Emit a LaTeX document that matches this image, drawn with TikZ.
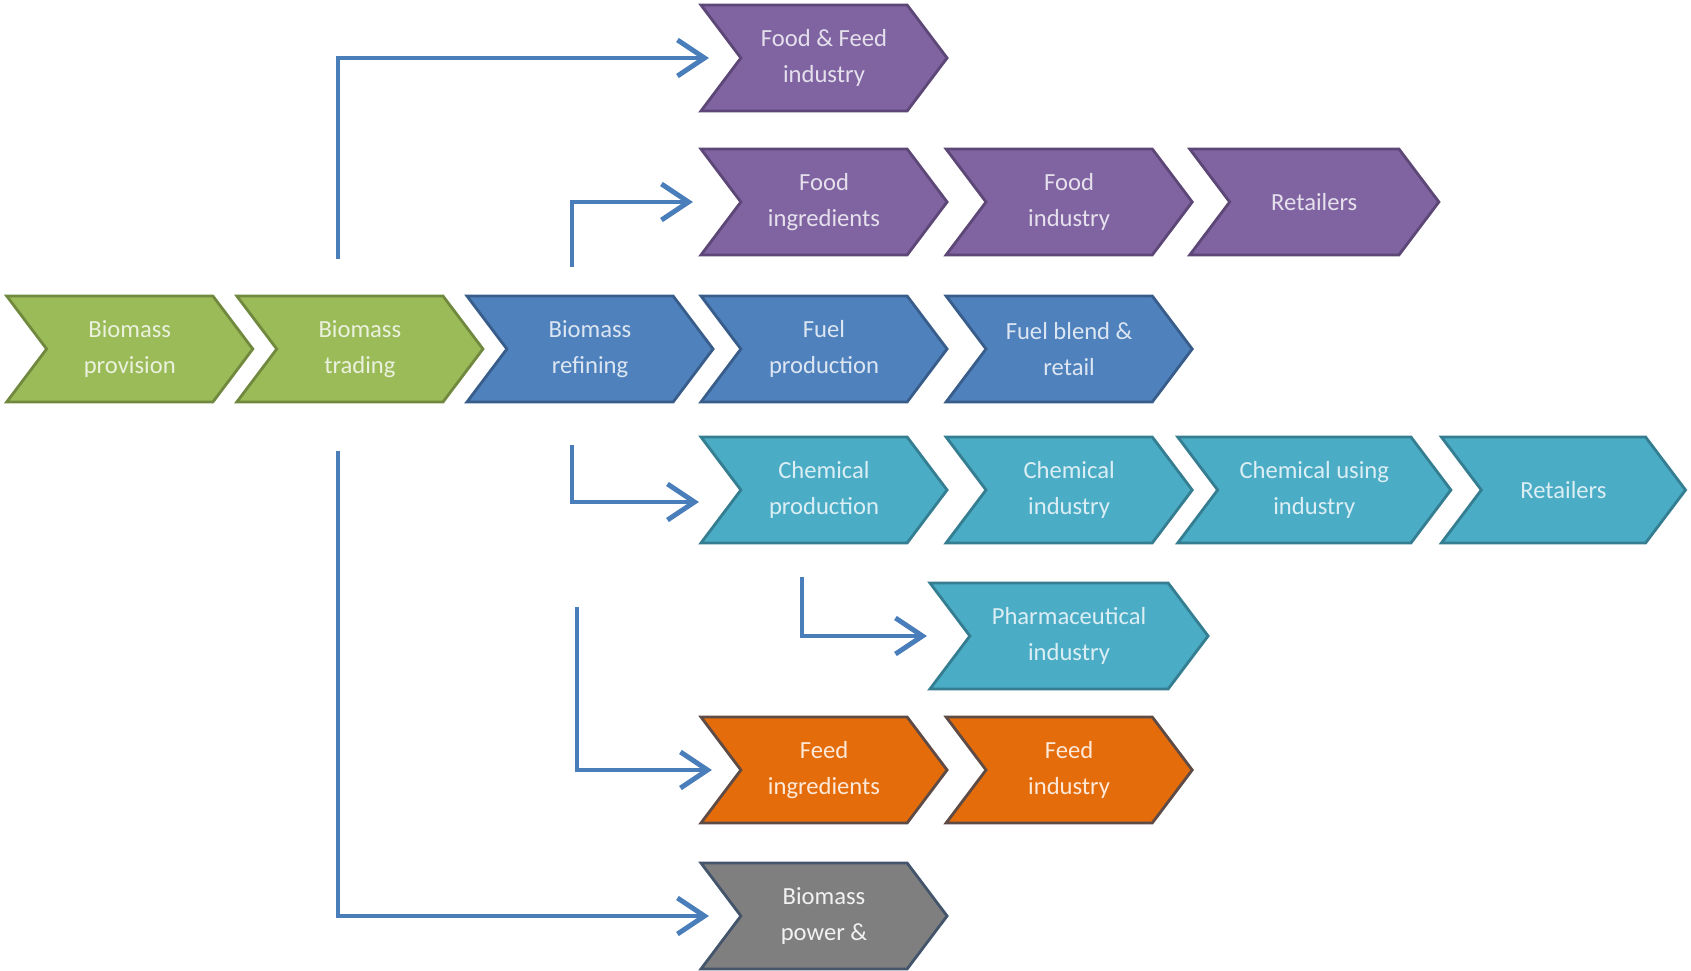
\documentclass[tikz,border=0pt]{standalone}
\usepackage{fontspec}
\setmainfont{Carlito}
\usetikzlibrary{shapes.symbols,arrows.meta}
\definecolor{grnfill}{HTML}{9BBB59}
\definecolor{grnline}{HTML}{71893F}
\definecolor{grntext}{HTML}{EAF1DD}
\definecolor{blufill}{HTML}{4F81BD}
\definecolor{bluline}{HTML}{385D8A}
\definecolor{blutext}{HTML}{DCE6F2}
\definecolor{prpfill}{HTML}{8064A2}
\definecolor{prpline}{HTML}{5C4776}
\definecolor{prptext}{HTML}{E5E0EC}
\definecolor{aqufill}{HTML}{4BACC6}
\definecolor{aquline}{HTML}{357D91}
\definecolor{aqutext}{HTML}{DBEEF4}
\definecolor{orgfill}{HTML}{E46C0A}
\definecolor{orgline}{HTML}{5E4B46}
\definecolor{orgtext}{HTML}{FDE9D9}
\definecolor{gryfill}{HTML}{7F7F7F}
\definecolor{gryline}{HTML}{44546A}
\definecolor{grytext}{HTML}{F2F2F2}
\definecolor{linkblue}{HTML}{4A7EBB}
\begin{document}
\begin{tikzpicture}[x=0.01cm, y=-0.01cm, node distance=2.45cm,
  chev/.style = {shape=signal, signal from=west, signal to=east,
    signal pointer angle=106, minimum width=2.46cm, minimum height=1.06cm,
    inner sep=0pt, line width=0.8pt, align=center,
    font=\fontsize{7}{10.3}\selectfont},
  grn/.style = {chev, fill=grnfill, draw=grnline, text=grntext},
  blu/.style = {chev, fill=blufill, draw=bluline, text=blutext},
  prp/.style = {chev, fill=prpfill, draw=prpline, text=prptext},
  aqu/.style = {chev, fill=aqufill, draw=aquline, text=aqutext},
  org/.style = {chev, fill=orgfill, draw=orgline, text=orgtext},
  gry/.style = {chev, fill=gryfill, draw=gryline, text=grytext},
  link/.style = {draw=linkblue, line width=1.4pt,
    -{Straight Barb[length=2.7mm,width=3.6mm]}}]
  \useasboundingbox (0,0) rectangle (1691,971);
  % main chain
  \node[blu] (refining) at (590,349) {Biomass\\refining};
  \node[grn] (trading) [left of=refining, node distance=2.3cm] {Biomass\\trading};
  \node[grn] (provision) [left of=trading, node distance=2.3cm] {Biomass\\provision};
  \node[blu] (fuelprod) at (824,349) {Fuel\\production};
  \node[blu] (fuelblend) [right of=fuelprod] {Fuel blend \&\\retail};
  % food
  \node[prp] (foodfeed) at (824,58) {Food \& Feed\\industry};
  \node[prp] (foodingr) at (824,202) {Food\\ingredients};
  \node[prp] (foodind) [right of=foodingr] {Food\\industry};
  \node[prp, minimum width=2.49cm] (retailfood) [right of=foodind] {Retailers};
  % chemicals
  \node[aqu] (chemprod) at (824,490) {Chemical\\production};
  \node[aqu] (chemind) [right of=chemprod] {Chemical\\industry};
  \node[aqu, minimum width=2.73cm] (chemuse) [right of=chemind] {Chemical using\\industry};
  \node[aqu, minimum width=2.44cm] (retailchem) [right of=chemuse, node distance=2.49cm] {Retailers};
  \node[aqu, minimum width=2.78cm] (pharma) at (1069,636) {Pharmaceutical\\industry};
  % feed and power
  \node[org] (feedingr) at (824,770) {Feed\\ingredients};
  \node[org] (feedind) [right of=feedingr] {Feed\\industry};
  \node[gry] (power) at (824,916) {Biomass\\power \&};
  % connectors
  \coordinate (up1) at (338,259);
  \coordinate (up2) at (572,267);
  \coordinate (dn1) at (572,445);
  \coordinate (dn2) at (802,577);
  \coordinate (dn3) at (577,607);
  \coordinate (dn4) at (338,451);
  \draw[link] (up1) |- ([xshift=-1.15cm]foodfeed.center);
  \draw[link] (up2) |- ([xshift=-1.31cm]foodingr.center);
  \draw[link] (dn1) |- ([xshift=-1.25cm,yshift=-0.12cm]chemprod.center);
  \draw[link] (dn2) |- ([xshift=-1.42cm]pharma.center);
  \draw[link] (dn3) |- ([xshift=-1.12cm]feedingr.center);
  \draw[link] (dn4) |- ([xshift=-1.15cm]power.center);
\end{tikzpicture}
\end{document}
